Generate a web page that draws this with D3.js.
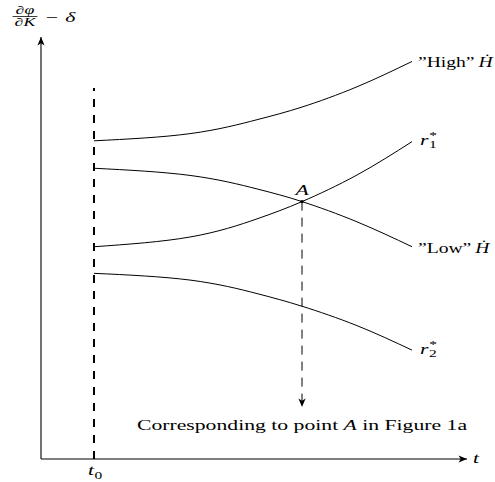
<!DOCTYPE html>
<html>
<head>
<meta charset="utf-8">
<script src="https://cdn.jsdelivr.net/npm/d3@7"></script>
<style>
  body { margin: 0; background: #fff; }
  text { font-family: 'Liberation Serif', serif; fill: #000; }
</style>
</head>
<body>
<div id="chart"></div>
<script>
var times = [1.244, 3.498, 5.07, 6.127, 7.418, 8.709]

// curve values (same length as times)
var highH = [7.54, 7.71, 8.04, 8.34, 8.82, 9.42]
var lowH = [6.89, 6.72, 6.4, 6.1, 5.62, 5.03]
var r1 = [5.03, 5.26, 5.69, 6.1, 6.73, 7.52]
var r2 = [4.4, 4.24, 3.92, 3.62, 3.16, 2.58]

var t0 = 1.244
var t0Top = 8.79
var pointA = { t: 6.127, v: 6.1 }
var arrowEnd = 1.23
var note = 'Corresponding to point '

var width = 495
var height = 482
var SX = 1.55 // text in the picture is stretched sideways
var FS = 14

var xPositionScale = d3.scaleLinear().domain([0, 10]).range([41, 467])
var yPositionScale = d3.scaleLinear().domain([0, 10]).range([459, 37])

var svg = d3
  .select('#chart')
  .append('svg')
  .attr('width', width)
  .attr('height', height)

// arrow head, stealth-like
var defs = svg.append('defs')
defs
  .append('marker')
  .attr('id', 'arrow')
  .attr('markerUnits', 'userSpaceOnUse')
  .attr('viewBox', '-10 -5 12 10')
  .attr('refX', 0)
  .attr('refY', 0)
  .attr('markerWidth', 12)
  .attr('markerHeight', 10)
  .attr('orient', 'auto')
  .append('path')
  .attr('d', 'M0,0 L-8.5,-3.6 L-6.3,0 L-8.5,3.6 Z')
  .attr('fill', '#000')

// axes
svg
  .append('line')
  .attr('x1', xPositionScale(0))
  .attr('y1', yPositionScale(0))
  .attr('x2', xPositionScale(10))
  .attr('y2', yPositionScale(0))
  .attr('stroke', '#000')
  .attr('stroke-width', 1.1)
  .attr('marker-end', 'url(#arrow)')

svg
  .append('line')
  .attr('x1', xPositionScale(0))
  .attr('y1', yPositionScale(0))
  .attr('x2', xPositionScale(0))
  .attr('y2', yPositionScale(10))
  .attr('stroke', '#000')
  .attr('stroke-width', 1.1)
  .attr('marker-end', 'url(#arrow)')

// t0 dashed line
svg
  .append('line')
  .attr('x1', xPositionScale(t0))
  .attr('y1', yPositionScale(0))
  .attr('x2', xPositionScale(t0))
  .attr('y2', yPositionScale(t0Top))
  .attr('stroke', '#000')
  .attr('stroke-width', 2)
  .attr('stroke-dasharray', '8,8')

// curves
var line = d3
  .line()
  .x((d, i) => xPositionScale(times[i]))
  .y(d => yPositionScale(d))
  .curve(d3.curveNatural)

var curves = [highH, r1, lowH, r2]
svg
  .selectAll('.curve')
  .data(curves)
  .enter()
  .append('path')
  .attr('class', 'curve')
  .attr('d', line)
  .attr('fill', 'none')
  .attr('stroke', '#000')
  .attr('stroke-width', 1)

// dashed arrow from A
svg
  .append('line')
  .attr('x1', xPositionScale(pointA.t))
  .attr('y1', yPositionScale(pointA.v))
  .attr('x2', xPositionScale(pointA.t))
  .attr('y2', yPositionScale(arrowEnd))
  .attr('stroke', '#000')
  .attr('stroke-width', 1)
  .attr('stroke-dasharray', '9,7')
  .attr('marker-end', 'url(#arrow)')

svg
  .append('circle')
  .attr('cx', xPositionScale(pointA.t))
  .attr('cy', yPositionScale(pointA.v))
  .attr('r', 1.7)
  .attr('fill', '#000')

// text helpers
function stretched(x, y, sx) {
  return svg.append('g').attr('transform', `translate(${x},${y}) scale(${sx || SX},1)`)
}

function subSup(g, base, sub, sup) {
  var t = g
    .append('text')
    .text(base)
    .attr('font-size', FS)
    .attr('font-style', 'italic')
  var w = t.node().getComputedTextLength()
  if (sup) {
    g.append('text').text(sup).attr('x', w + 0.5).attr('y', -6).attr('font-size', 10)
  }
  if (sub) {
    g.append('text').text(sub).attr('x', w + 0.3).attr('y', 3.8).attr('font-size', 10)
  }
}

function dotLabel(g, word) {
  var t = g.append('text').attr('font-size', FS)
  t.append('tspan').text('\u201D' + word + '\u201D\u2009')
  var h = t.append('tspan').text('H').attr('font-style', 'italic')
  var box = h.node().getBBox()
  // dot above the H
  g.append('text')
    .text('\u02D9')
    .attr('x', box.x + box.width / 2 + 1)
    .attr('y', -3)
    .attr('font-size', FS)
    .attr('text-anchor', 'middle')
}

var xEnd = xPositionScale(times[times.length - 1]) + 6
var last = times.length - 1

dotLabel(stretched(xEnd, yPositionScale(highH[last]) + 5.5, 1.4), 'High')
subSup(stretched(xEnd + 2, yPositionScale(r1[last]) + 3), 'r', '1', '*')
dotLabel(stretched(xEnd, yPositionScale(lowH[last]) + 6.5, 1.4), 'Low')
subSup(stretched(xEnd + 2, yPositionScale(r2[last]) + 3.5), 'r', '2', '*')

// A label
stretched(xPositionScale(pointA.t), yPositionScale(pointA.v) - 7)
  .append('text')
  .text('A')
  .attr('font-size', FS)
  .attr('font-style', 'italic')
  .attr('text-anchor', 'middle')

// note under the arrow
var noteText = stretched(xPositionScale(pointA.t), yPositionScale(arrowEnd) + 23)
  .append('text')
  .attr('font-size', FS)
  .attr('text-anchor', 'middle')
noteText.append('tspan').text(note)
noteText.append('tspan').text('A').attr('font-style', 'italic')
noteText.append('tspan').text(' in Figure 1a')

// t axis label
stretched(xPositionScale(10) + 6, yPositionScale(0) + 4)
  .append('text')
  .text('t')
  .attr('font-size', FS)
  .attr('font-style', 'italic')

// t0 label
var t0g = stretched(xPositionScale(t0) - 6, yPositionScale(0) + 16)
subSup(t0g, 't', '0', null)

// y axis label: d phi / d K - delta
var yl = stretched(25, 14)
yl.append('text')
  .text('\u2202\u03C6')
  .attr('font-size', 11.5)
  .attr('font-style', 'italic')
  .attr('text-anchor', 'middle')
yl.append('line')
  .attr('x1', -8)
  .attr('x2', 8)
  .attr('y1', 2.5)
  .attr('y2', 2.5)
  .attr('stroke', '#000')
  .attr('stroke-width', 0.6)
yl.append('text')
  .text('\u2202K')
  .attr('y', 12)
  .attr('font-size', 11.5)
  .attr('font-style', 'italic')
  .attr('text-anchor', 'middle')
yl.append('text')
  .text('\u2212')
  .attr('x', 13.5)
  .attr('y', 8)
  .attr('font-size', FS)
yl.append('text')
  .text('\u03B4')
  .attr('x', 26)
  .attr('y', 8)
  .attr('font-size', FS)
  .attr('font-style', 'italic')
</script>
</body>
</html>
